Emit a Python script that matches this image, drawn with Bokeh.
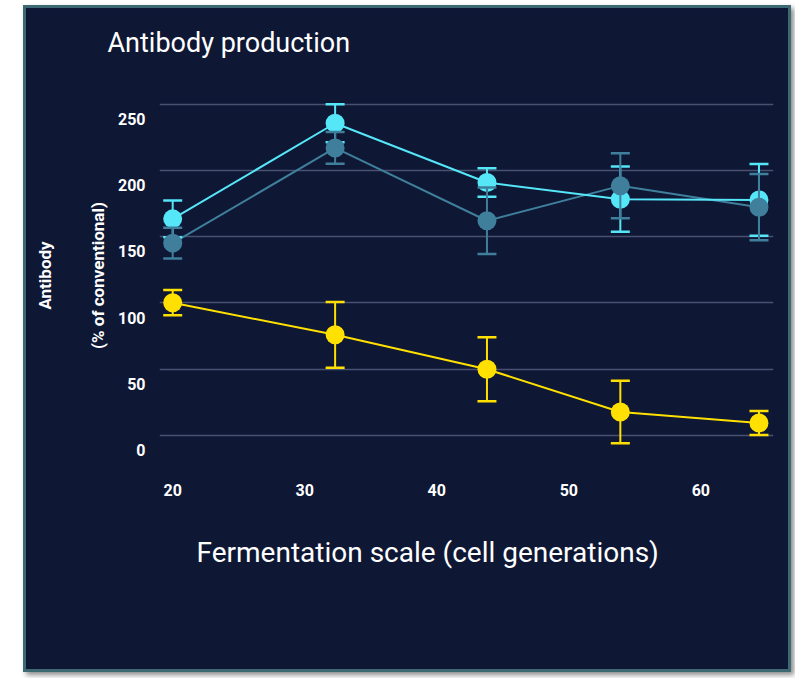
from bokeh.plotting import figure
from bokeh.layouts import column
from bokeh.models import Range1d, LinearAxis, FixedTicker, Title
from bokeh.embed import file_html
from bokeh.resources import INLINE

# ---- data ----
generations = [20, 32.3, 43.8, 53.9, 64.4]

cyan_mean = [163.4, 235.5, 190.8, 178.2, 177.7]
cyan_err = [13.8, 14.3, 10.7, 24.6, 27.0]

teal_mean = [145.1, 216.9, 162.0, 188.3, 172.2]
teal_err = [11.6, 12.0, 25.0, 24.5, 25.0]

yellow_mean = [100.2, 76.0, 50.0, 17.8, 9.5]
yellow_err = [9.5, 24.8, 24.2, 23.5, 9.0]

x_ticks = [20, 30, 40, 50, 60]
y_ticks = [0, 50, 100, 150, 200, 250]

title_text = "Antibody production"
x_label = "Fermentation scale (cell generations)"
y_label_1 = "Antibody"
y_label_2 = "(% of conventional)"

# ---- style ----
NAVY = "#0e1734"
WHITE = "#ffffff"
GRID = "#4a5170"
C_CYAN = "#55e6f8"
C_TEAL = "#3f7f9c"
C_YELLOW = "#ffe000"
FONT = "Roboto"

p = figure(width=762, height=661, output_backend="svg", toolbar_location=None,
           x_range=Range1d(19, 65.5), y_range=Range1d(-20.3, 261.7),
           y_axis_location=None, title=title_text,
           min_border_left=133, min_border_right=15,
           min_border_top=80, min_border_bottom=207)

p.background_fill_color = NAVY
p.border_fill_color = NAVY
p.outline_line_color = None
p.styles = {"background-color": NAVY}

p.title.text_font = FONT
p.title.text_font_size = "27px"
p.title.text_font_style = "normal"
p.title.text_color = WHITE
p.title.align = "left"
p.title.offset = -52
p.title.standoff = 0
# invisible spacer between the frame and the title
p.add_layout(Title(text=" ", text_font_size="1px", standoff=27), "above")

p.xgrid.visible = False
p.ygrid.ticker = FixedTicker(ticks=y_ticks)
p.ygrid.grid_line_color = GRID
p.ygrid.grid_line_width = 1.6

xa = p.xaxis[0]
xa.ticker = FixedTicker(ticks=x_ticks)
xa.axis_line_color = None
xa.major_tick_line_color = None
xa.minor_tick_line_color = None
xa.major_tick_out = 0
xa.major_tick_in = 0
xa.major_label_standoff = 21
xa.major_label_text_font = FONT
xa.major_label_text_font_size = "16px"
xa.major_label_text_font_style = "bold"
xa.major_label_text_color = WHITE

# x axis title: in the reference it sits left of the frame centre
x_title = Title(text=x_label, align="left", offset=37, standoff=71,
                text_font=FONT, text_font_size="28px",
                text_font_style="normal", text_color=WHITE)
p.add_layout(x_title, "below")

# tick labels sit a little below their grid lines in the reference
p.extra_y_ranges = {"lab": Range1d(-20.3 + 11.0, 261.7 + 11.0)}
lab_axis = LinearAxis(y_range_name="lab", ticker=FixedTicker(ticks=y_ticks),
                      axis_label=y_label_2)
name_axis = LinearAxis(y_range_name="lab", ticker=FixedTicker(ticks=[]),
                       axis_label=y_label_1)
for ax in (lab_axis, name_axis):
    ax.axis_line_color = None
    ax.major_tick_line_color = None
    ax.minor_tick_line_color = None
    ax.major_tick_out = 0
    ax.major_tick_in = 0
    ax.major_label_text_font = FONT
    ax.major_label_text_font_style = "bold"
    ax.major_label_text_color = WHITE
    ax.axis_label_text_font = FONT
    ax.axis_label_text_font_style = "bold"
    ax.axis_label_text_font_size = "17px"
    ax.axis_label_text_color = WHITE
lab_axis.major_label_text_font_size = "16px"
lab_axis.major_label_standoff = 14
lab_axis.axis_label_standoff = 7
name_axis.major_label_text_font_size = "0px"
name_axis.major_label_standoff = 0
name_axis.axis_label_standoff = 30
p.add_layout(lab_axis, "left")
p.add_layout(name_axis, "left")


def series(mean, color):
    p.line(generations, mean, line_color=color, line_width=2)


def markers(mean, err, color):
    lower = [m - e for m, e in zip(mean, err)]
    upper = [m + e for m, e in zip(mean, err)]
    p.segment(x0=generations, y0=lower, x1=generations, y1=upper,
              line_color=color, line_width=2)
    p.scatter(generations, upper, marker="dash", size=19,
              line_color=color, line_width=2.5)
    p.scatter(generations, lower, marker="dash", size=19,
              line_color=color, line_width=2.5)
    p.scatter(generations, mean, marker="circle", size=19,
              fill_color=color, line_color=None)


series(yellow_mean, C_YELLOW)
markers(yellow_mean, yellow_err, C_YELLOW)
series(teal_mean, C_TEAL)
series(cyan_mean, C_CYAN)
markers(cyan_mean, cyan_err, C_CYAN)
markers(teal_mean, teal_err, C_TEAL)

layout = column(p)
layout.margin = (5, 0, 0, 23)
layout.styles = {"border": "3px solid #3d6a72",
                 "background-color": NAVY,
                 "box-shadow": "3px 3px 5px rgba(0,0,0,0.45)"}

open("out.html", "w").write(file_html(layout, INLINE))
